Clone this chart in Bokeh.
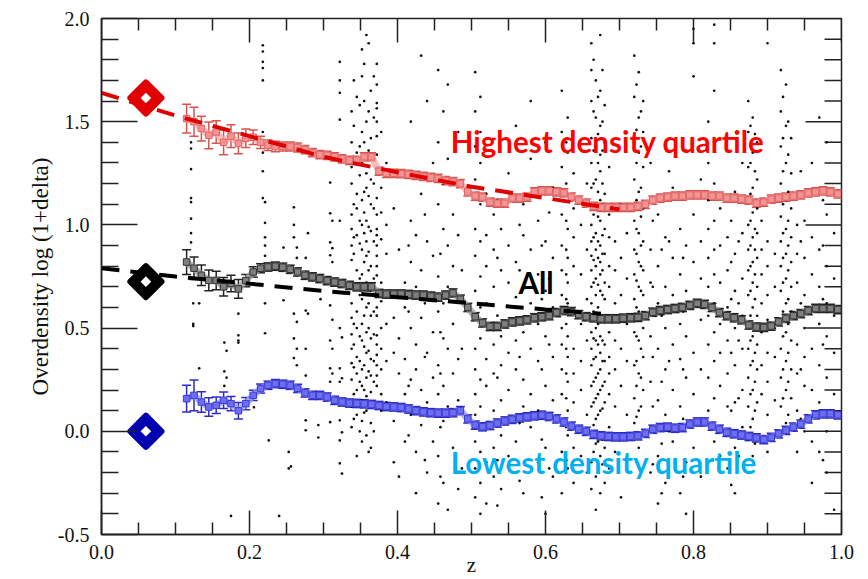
from math import pi

from bokeh.plotting import figure
from bokeh.models import (ColumnDataSource, Whisker, TeeHead, FixedTicker,
                          Range1d, Label, Title, PrintfTickFormatter)
from bokeh.embed import file_html
from bokeh.resources import INLINE

# ---------------------------------------------------------------- data
bin_z = [0.115, 0.125, 0.135, 0.145, 0.155, 0.165, 0.175, 0.185, 0.195, 0.205,
         0.215, 0.225, 0.235, 0.245, 0.255, 0.265, 0.275, 0.285, 0.295, 0.305,
         0.315, 0.325, 0.335, 0.345, 0.355, 0.365, 0.375, 0.385, 0.395, 0.405,
         0.415, 0.425, 0.435, 0.445, 0.455, 0.465, 0.475, 0.485, 0.495, 0.505,
         0.515, 0.525, 0.535, 0.545, 0.555, 0.565, 0.575, 0.585, 0.595, 0.605,
         0.615, 0.625, 0.635, 0.645, 0.655, 0.665, 0.675, 0.685, 0.695, 0.705,
         0.715, 0.725, 0.735, 0.745, 0.755, 0.765, 0.775, 0.785, 0.795, 0.805,
         0.815, 0.825, 0.835, 0.845, 0.855, 0.865, 0.875, 0.885, 0.895, 0.905,
         0.915, 0.925, 0.935, 0.945, 0.955, 0.965, 0.975, 0.985, 0.995]

high_vals = [1.515, 1.50, 1.467, 1.434, 1.45, 1.40, 1.43, 1.395, 1.42, 1.425,
             1.40, 1.386, 1.38, 1.38, 1.38, 1.375, 1.365, 1.35, 1.34, 1.337,
             1.33, 1.32, 1.313, 1.313, 1.33, 1.33, 1.26, 1.25, 1.25, 1.248,
             1.245, 1.24, 1.235, 1.23, 1.225, 1.215, 1.21, 1.20, 1.16, 1.14,
             1.135, 1.11, 1.105, 1.105, 1.13, 1.13, 1.135, 1.16, 1.165, 1.165,
             1.16, 1.155, 1.135, 1.12, 1.105, 1.09, 1.085, 1.085, 1.085, 1.085,
             1.085, 1.09, 1.10, 1.12, 1.13, 1.135, 1.14, 1.14, 1.145, 1.145,
             1.145, 1.14, 1.14, 1.13, 1.13, 1.125, 1.12, 1.105, 1.11, 1.125,
             1.13, 1.135, 1.14, 1.145, 1.155, 1.16, 1.165, 1.16, 1.15]
high_err = [0.07, 0.07, 0.06, 0.065, 0.055, 0.06, 0.055, 0.05, 0.045, 0.035,
            0.03, 0.025, 0.025, 0.022, 0.022, 0.022, 0.02, 0.02, 0.02, 0.02,
            0.02, 0.02, 0.02, 0.02, 0.02, 0.02, 0.02, 0.02, 0.02, 0.02,
            0.02, 0.02, 0.02, 0.02, 0.02, 0.02, 0.02, 0.02, 0.02, 0.02,
            0.02, 0.02, 0.02, 0.02, 0.02, 0.02, 0.02, 0.02, 0.02, 0.02,
            0.02, 0.02, 0.02, 0.02, 0.02, 0.02, 0.02, 0.02, 0.02, 0.02,
            0.02, 0.02, 0.02, 0.02, 0.02, 0.02, 0.02, 0.02, 0.02, 0.02,
            0.02, 0.02, 0.02, 0.02, 0.02, 0.02, 0.02, 0.02, 0.02, 0.02,
            0.02, 0.02, 0.02, 0.02, 0.02, 0.02, 0.02, 0.02, 0.02]

all_vals = [0.82, 0.79, 0.756, 0.731, 0.731, 0.70, 0.716, 0.69, 0.73, 0.772,
            0.79, 0.796, 0.80, 0.795, 0.785, 0.772, 0.756, 0.748, 0.74, 0.73,
            0.723, 0.716, 0.707, 0.70, 0.70, 0.70, 0.668, 0.665, 0.665, 0.665,
            0.663, 0.66, 0.66, 0.655, 0.65, 0.66, 0.67, 0.64, 0.60, 0.555,
            0.525, 0.508, 0.508, 0.52, 0.53, 0.535, 0.54, 0.55, 0.555, 0.56,
            0.575, 0.585, 0.58, 0.565, 0.555, 0.55, 0.545, 0.545, 0.545, 0.548,
            0.55, 0.552, 0.56, 0.577, 0.585, 0.59, 0.595, 0.60, 0.61, 0.62,
            0.615, 0.60, 0.575, 0.56, 0.55, 0.54, 0.515, 0.505, 0.503, 0.51,
            0.53, 0.547, 0.56, 0.57, 0.585, 0.595, 0.595, 0.595, 0.59]
all_err = [0.06, 0.055, 0.05, 0.05, 0.045, 0.045, 0.04, 0.045, 0.03, 0.025,
           0.022, 0.02, 0.02, 0.02, 0.02, 0.02, 0.02, 0.02, 0.02, 0.02,
           0.02, 0.02, 0.02, 0.02, 0.02, 0.02, 0.02, 0.02, 0.02, 0.02,
           0.02, 0.02, 0.02, 0.02, 0.02, 0.02, 0.02, 0.02, 0.02, 0.02,
           0.02, 0.02, 0.02, 0.02, 0.02, 0.02, 0.02, 0.02, 0.02, 0.02,
           0.02, 0.02, 0.02, 0.02, 0.02, 0.02, 0.02, 0.02, 0.02, 0.02,
           0.02, 0.02, 0.02, 0.02, 0.02, 0.02, 0.02, 0.02, 0.02, 0.02,
           0.02, 0.02, 0.02, 0.02, 0.02, 0.02, 0.02, 0.02, 0.02, 0.02,
           0.02, 0.02, 0.02, 0.02, 0.02, 0.02, 0.02, 0.02, 0.02]

low_vals = [0.158, 0.174, 0.142, 0.118, 0.126, 0.15, 0.134, 0.10, 0.134, 0.174,
            0.207, 0.223, 0.231, 0.228, 0.223, 0.208, 0.186, 0.174, 0.174, 0.166,
            0.15, 0.142, 0.137, 0.135, 0.133, 0.13, 0.125, 0.12, 0.118, 0.115,
            0.108, 0.10, 0.094, 0.09, 0.088, 0.088, 0.09, 0.10, 0.06, 0.03,
            0.022, 0.028, 0.04, 0.05, 0.058, 0.065, 0.07, 0.075, 0.078, 0.072,
            0.06, 0.045, 0.025, 0.01, 0.0, -0.015, -0.022, -0.025, -0.027, -0.027,
            -0.025, -0.022, -0.01, 0.01, 0.018, 0.02, 0.015, 0.018, 0.035, 0.045,
            0.045, 0.025, 0.01, -0.005, -0.012, -0.018, -0.025, -0.032, -0.04, -0.03,
            -0.012, 0.005, 0.02, 0.035, 0.06, 0.08, 0.085, 0.085, 0.08]
low_err = [0.065, 0.075, 0.05, 0.045, 0.04, 0.04, 0.035, 0.04, 0.03, 0.025,
           0.022, 0.02, 0.02, 0.02, 0.02, 0.02, 0.02, 0.02, 0.02, 0.02,
           0.02, 0.02, 0.02, 0.02, 0.02, 0.02, 0.02, 0.02, 0.02, 0.02,
           0.02, 0.02, 0.02, 0.02, 0.02, 0.02, 0.02, 0.02, 0.02, 0.02,
           0.02, 0.02, 0.02, 0.02, 0.02, 0.02, 0.02, 0.02, 0.02, 0.02,
           0.02, 0.02, 0.02, 0.02, 0.02, 0.02, 0.02, 0.02, 0.02, 0.02,
           0.02, 0.02, 0.02, 0.02, 0.02, 0.02, 0.02, 0.02, 0.02, 0.02,
           0.02, 0.02, 0.02, 0.02, 0.02, 0.02, 0.02, 0.02, 0.02, 0.02,
           0.02, 0.02, 0.02, 0.02, 0.02, 0.02, 0.02, 0.02, 0.02]

# local (z ~ 0.06) reference points: highest quartile, all, lowest quartile
local_z = [0.06, 0.06, 0.06]
local_vals = [1.615, 0.725, 0.0]

# fitted trends
fit_z = [0.0, 0.1, 0.2, 0.3, 0.4, 0.5, 0.6, 0.7]
high_fit = [1.64, 1.53, 1.43, 1.33, 1.255, 1.185, 1.13, 1.075]
all_fit_z = [0.0, 0.1, 0.2, 0.3, 0.4, 0.5, 0.6, 0.675]
all_fit = [0.79, 0.75, 0.715, 0.68, 0.65, 0.62, 0.59, 0.57]

# individual galaxies, grouped in redshift columns
column_z = [0.121, 0.124, 0.132, 0.166, 0.169, 0.175, 0.185, 0.206, 0.218, 0.221,
            0.226, 0.24, 0.246, 0.253, 0.256, 0.26, 0.264, 0.276, 0.279, 0.293,
            0.296, 0.309, 0.312, 0.322, 0.325, 0.338, 0.345, 0.352, 0.358, 0.364,
            0.372, 0.378, 0.385, 0.395, 0.402, 0.41, 0.418, 0.425, 0.432, 0.44,
            0.448, 0.455, 0.462, 0.468, 0.475, 0.482, 0.505, 0.512, 0.52, 0.53,
            0.54, 0.55, 0.56, 0.57, 0.58, 0.59, 0.60, 0.61, 0.622, 0.63,
            0.638, 0.648, 0.656, 0.662, 0.668, 0.674, 0.68, 0.686, 0.694, 0.702,
            0.71, 0.72, 0.726, 0.732, 0.742, 0.752, 0.762, 0.772, 0.782, 0.79,
            0.80, 0.81, 0.82, 0.828, 0.836, 0.846, 0.856, 0.866, 0.874, 0.88,
            0.886, 0.892, 0.90, 0.91, 0.918, 0.925, 0.932, 0.94, 0.95, 0.96,
            0.97, 0.98, 0.99,
            0.341, 0.349, 0.355, 0.361, 0.368, 0.628, 0.665, 0.671, 0.677, 0.723,
            0.729, 0.877, 0.883, 0.921, 0.928,
            0.415, 0.437, 0.458, 0.487, 0.535, 0.565, 0.595, 0.605, 0.745, 0.757,
            0.767, 0.786, 0.851, 0.861, 0.945, 0.975]
column_y = [
    [1.40, 1.37, 1.27, 1.13, 1.11, 1.03, 0.96, 0.915],
    [0.62, 0.52, 0.51],
    [0.62, 0.305],
    [0.43, 0.29, 0.22],
    [0.39, 0.26],
    [-0.41],
    [0.57, 0.465, 0.44, 0.43],
    [0.116],
    [1.87, 1.84, 1.79, 1.76, 1.70, 1.45, 1.35, 1.26, 1.13],
    [1.11, 1.01, 0.94, 0.90, 0.85, 0.79, 0.62, 0.475],
    [-0.044],
    [-0.41],
    [0.89, 0.635],
    [-0.10, -0.18],
    [-0.17],
    [1.085, 1.0, 0.94, 0.57, 0.45, 0.355],
    [0.89, 0.84, 0.53, 0.40, 0.32],
    [0.84, 0.755, 0.585, 0.40, 0.27, 0.053, 0.005],
    [0.57, 0.96],
    [0.03, -0.03],
    [0.64],
    [1.205, 1.056, 0.915, 0.853, 0.61, 0.44, 0.305, 0.24, 0.044],
    [1.02, 0.887, 0.82, 0.54, 0.40, 0.28],
    [1.79, 1.70, 1.64, 1.51, 1.02, 0.50, 0.305, 0.24, 0.053, -0.044, -0.155],
    [0.455, 0.257, -0.005, -0.205],
    [1.55, 1.40, 1.28, 1.20, 1.05, 0.98, 0.90, 0.83, 0.62, 0.55, 0.47, 0.40, 0.33, 0.25, 0.12, 0.02],
    [1.62, 1.35, 1.15, 1.08, 0.95, 0.78, 0.58, 0.50, 0.36, 0.28, 0.20, 0.08, -0.12],
    [1.85, 1.72, 1.45, 1.30, 1.12, 1.00, 0.88, 0.76, 0.64, 0.52, 0.44, 0.30, 0.22, 0.15, 0.05, -0.05],
    [1.92, 1.50, 1.25, 1.18, 1.02, 0.92, 0.85, 0.72, 0.60, 0.48, 0.38, 0.26, 0.17, 0.10, -0.02],
    [1.65, 1.42, 1.22, 1.10, 0.97, 0.80, 0.68, 0.56, 0.45, 0.35, 0.27, 0.19, 0.04, -0.08],
    [1.78, 1.68, 1.59, 1.565, 1.50, 1.43, 1.34, 1.25, 1.13, 1.05, 0.98, 0.95, 0.90, 0.85, 0.80,
     0.755, 0.60, 0.56, 0.465, 0.42, 0.37, 0.32, 0.27, 0.22],
    [1.45, 1.18, 1.06, 0.93, 0.72, 0.63, 0.50, 0.40, 0.30, 0.18, 0.10],
    [1.30, 1.00, 0.86, 0.66, 0.52, 0.34, 0.14],
    [1.08, 0.55, 0.38, 0.05, -0.15],
    [1.25, 0.88, 0.45, 0.28, 0.12, -0.22],
    [0.72, 0.60, 0.35, 0.18, -0.05],
    [1.50, 1.02, 0.82, 0.50, 0.25, 0.08],
    [0.95, 0.70, 0.42, 0.30, -0.10, -0.30],
    [1.82, 1.15, 0.78, 0.55, 0.20, 0.03],
    [1.60, 0.92, 0.65, 0.38, 0.14, -0.20],
    [1.30, 0.85, 0.48, 0.26, -0.05],
    [1.75, 1.40, 1.10, 0.75, 0.58, 0.32, 0.18, -0.12, -0.35],
    [1.55, 1.20, 0.98, 0.62, 0.45, 0.22, 0.05, -0.25],
    [1.68, 1.32, 0.90, 0.70, 0.40, 0.12, -0.38],
    [1.05, 0.80, 0.52, 0.28, -0.08],
    [1.45, 0.95, 0.66, 0.35, 0.15, -0.28],
    [1.74, 1.55, 1.38, 1.22, 0.98, 0.85, 0.68, 0.40, 0.30, 0.18, 0.08, -0.05, -0.18, -0.32],
    [1.62, 1.45, 1.30, 1.10, 0.92, 0.75, 0.60, 0.45, 0.25, 0.12, -0.10, -0.25, -0.40],
    [1.15, 0.95, 0.80, 0.62, 0.35, 0.22, 0.02, -0.15, -0.35],
    [1.35, 1.05, 0.88, 0.70, 0.42, 0.28, 0.10, -0.08, -0.22],
    [0.98, 0.78, 0.46, 0.32, 0.15, -0.02, -0.28],
    [1.25, 0.90, 0.72, 0.38, 0.20, 0.06, -0.12],
    [1.48, 0.82, 0.65, 0.44, 0.30, -0.05, -0.20],
    [1.10, 0.95, 0.70, 0.48, 0.25, 0.12, -0.30],
    [1.60, 1.32, 0.88, 0.62, 0.40, 0.18, 0.02],
    [1.02, 0.76, 0.52, 0.34, 0.10, -0.15],
    [1.40, 0.92, 0.68, 0.46, 0.22, -0.08, -0.40],
    [1.18, 0.84, 0.60, 0.36, 0.15, -0.22],
    [1.65, 1.45, 1.28, 1.05, 0.90, 0.78, 0.66, 0.50, 0.42, 0.30, 0.18, 0.05, -0.10, -0.30],
    [1.52, 1.35, 1.15, 0.98, 0.84, 0.72, 0.62, 0.46, 0.36, 0.24, 0.10, -0.02, -0.18],
    [1.25, 1.08, 0.94, 0.80, 0.58, 0.40, 0.28, 0.14, -0.08, -0.25],
    [1.00, 0.76, 0.52, 0.34, 0.20, -0.12],
    [1.20, 0.88, 0.64, 0.44, 0.08, -0.20],
    [1.88, 1.75, 1.60, 1.42, 1.30, 1.18, 1.00, 0.92, 0.85, 0.78, 0.70, 0.62, 0.48, 0.40, 0.32,
     0.22, 0.12, 0.0, -0.15, -0.28],
    [1.70, 1.52, 1.38, 1.22, 1.08, 0.96, 0.88, 0.80, 0.74, 0.66, 0.50, 0.44, 0.36, 0.26, 0.16,
     0.06, -0.06, -0.22, -0.38],
    [1.92, 1.65, 1.48, 1.34, 1.26, 1.12, 1.02, 0.90, 0.82, 0.76, 0.68, 0.46, 0.38, 0.30, 0.20,
     0.10, -0.02, -0.12, -0.30],
    [1.58, 1.40, 1.15, 0.98, 0.86, 0.72, 0.64, 0.42, 0.34, 0.24, 0.14, -0.08, -0.25],
    [1.28, 1.05, 0.94, 0.80, 0.70, 0.48, 0.36, 0.28, 0.18, 0.02, -0.18],
    [0.92, 0.78, 0.62, 0.44, 0.30, 0.12, -0.10],
    [1.10, 0.84, 0.66, 0.40, 0.22, -0.02, -0.32],
    [0.96, 0.74, 0.52, 0.34, 0.08, -0.14],
    [1.82, 1.62, 1.40, 1.22, 1.02, 0.88, 0.76, 0.64, 0.48, 0.32, 0.16, 0.04],
    [1.74, 1.52, 1.35, 1.16, 0.96, 0.82, 0.70, 0.58, 0.44, 0.28, 0.10, -0.08],
    [1.60, 1.45, 1.28, 1.08, 0.92, 0.78, 0.66, 0.50, 0.36, 0.20, -0.02],
    [1.30, 0.88, 0.72, 0.46, 0.24, 0.02, -0.20],
    [1.05, 0.80, 0.62, 0.40, 0.15, -0.12, -0.35],
    [0.94, 0.70, 0.50, 0.30, 0.08, -0.25],
    [1.18, 0.84, 0.66, 0.42, 0.20, -0.05],
    [0.98, 0.76, 0.52, 0.35, 0.12, -0.30],
    [1.36, 0.90, 0.68, 0.46, 0.26, -0.15, -0.40],
    [1.95, 1.88, 1.72, 1.05, 0.82, 0.60, 0.38, 0.18, -0.08],
    [1.22, 0.92, 0.74, 0.54, 0.30, 0.05, -0.22],
    [1.50, 1.30, 1.12, 0.98, 0.84, 0.70, 0.56, 0.42, 0.26, 0.10],
    [1.97, 1.88, 1.65, 1.40, 1.20, 1.02, 0.88, 0.76, 0.62, 0.48, 0.34, 0.16, -0.05],
    [1.08, 0.90, 0.72, 0.52, 0.38, 0.22, -0.12],
    [0.94, 0.78, 0.60, 0.44, 0.28, 0.12, -0.18],
    [1.16, 0.86, 0.68, 0.50, 0.32, 0.14, -0.08, -0.30],
    [1.30, 0.96, 0.74, 0.56, 0.40, 0.20, 0.02],
    [1.60, 1.45, 1.28, 1.12, 1.00, 0.88, 0.78, 0.66, 0.52, 0.40, 0.26, 0.12, -0.04],
    [1.52, 1.35, 1.18, 1.06, 0.94, 0.82, 0.72, 0.60, 0.46, 0.34, 0.20, 0.06, -0.12],
    [1.40, 1.22, 1.08, 0.96, 0.84, 0.70, 0.56, 0.42, 0.30, 0.14],
    [1.02, 0.88, 0.76, 0.62, 0.48, 0.32, 0.18],
    [1.88, 0.92, 0.80, 0.66, 0.54, 0.38, 0.24, 0.08, -0.10],
    [0.86, 0.70, 0.50, 0.36, 0.15],
    [1.75, 1.55, 1.38, 1.20, 1.04, 0.92, 0.80, 0.68, 0.54, 0.40, 0.26, 0.12, -0.02],
    [1.68, 1.48, 1.30, 1.12, 0.98, 0.86, 0.74, 0.62, 0.48, 0.34, 0.20, 0.04],
    [1.42, 1.25, 1.08, 0.94, 0.82, 0.70, 0.58, 0.44, 0.30, 0.16],
    [1.15, 1.00, 0.86, 0.72, 0.56, 0.42, 0.28, 0.10, -0.10],
    [1.02, 0.84, 0.66, 0.50, 0.36, 0.22, 0.0],
    [1.30, 0.94, 0.76, 0.58, 0.40, 0.20, -0.05, -0.25],
    [1.52, 0.88, 0.70, 0.52, 0.32, 0.14, -0.10],
    [1.40, 1.05, 0.80, 0.62, 0.46, 0.26, 0.0, -0.20],
    [0.96, 0.74, 0.56, 0.38, 0.18, -0.38],
    [1.70, 1.48, 1.32, 1.10, 0.94, 0.86, 0.70, 0.52, 0.42, 0.31, 0.18, 0.06],
    [1.58, 1.38, 1.24, 1.02, 0.91, 0.74, 0.66, 0.46, 0.34, 0.24, 0.13, 0.0],
    [1.78, 1.60, 1.40, 1.16, 1.06, 0.96, 0.82, 0.70, 0.56, 0.41, 0.32, 0.20, 0.09],
    [1.88, 1.55, 1.36, 1.14, 0.99, 0.87, 0.78, 0.62, 0.50, 0.39, 0.29, 0.14, -0.10],
    [1.72, 1.52, 1.32, 1.20, 1.08, 0.92, 0.74, 0.58, 0.47, 0.34, 0.24, 0.12, 0.00],
    [1.40, 1.20, 1.02, 0.88, 0.76, 0.64, 0.52, 0.40, 0.28, 0.16, 0.02, -0.14],
    [1.80, 1.55, 1.36, 1.20, 1.05, 0.94, 0.83, 0.72, 0.58, 0.45, 0.35, 0.24, 0.14, 0.03, -0.10],
    [1.62, 1.44, 1.30, 1.16, 1.04, 0.92, 0.84, 0.71, 0.60, 0.52, 0.42, 0.28, 0.18, 0.08, -0.05, -0.20],
    [1.75, 1.50, 1.36, 1.20, 1.10, 0.95, 0.86, 0.78, 0.66, 0.55, 0.44, 0.34, 0.22, 0.11, -0.04, -0.16],
    [1.68, 1.46, 1.30, 1.12, 0.98, 0.86, 0.73, 0.60, 0.46, 0.34, 0.22, 0.07],
    [1.55, 1.38, 1.18, 1.04, 0.90, 0.80, 0.68, 0.54, 0.40, 0.26, 0.12],
    [1.48, 1.30, 1.15, 1.02, 0.90, 0.80, 0.68, 0.56, 0.44, 0.32, 0.18, 0.02],
    [1.44, 1.26, 1.12, 0.98, 0.88, 0.76, 0.64, 0.50, 0.38, 0.24, 0.10, -0.06],
    [1.62, 1.42, 1.26, 1.10, 0.96, 0.84, 0.72, 0.58, 0.46, 0.30, 0.16, 0.00],
    [1.50, 1.34, 1.16, 1.02, 0.90, 0.78, 0.64, 0.52, 0.38, 0.24, 0.08],
    [0.90, 0.58, 0.22, -0.02],
    [1.05, 0.62, 0.36, -0.14],
    [0.86, 0.48, 0.28, 0.02, -0.22],
    [1.20, 0.78, 0.40, 0.10, -0.18],
    [1.12, 0.84, 0.56, 0.26, -0.14, -0.36],
    [1.00, 0.78, 0.36, 0.04, -0.24],
    [0.90, 0.64, 0.30, -0.04, -0.32],
    [1.06, 0.74, 0.42, 0.08, -0.18],
    [1.02, 0.70, 0.36, 0.12, -0.16],
    [0.88, 0.56, 0.24, -0.06, -0.30],
    [1.26, 0.92, 0.60, 0.34, 0.00],
    [0.84, 0.58, 0.30, 0.06, -0.22],
    [1.02, 0.82, 0.64, 0.38, 0.10, -0.26],
    [0.92, 0.62, 0.44, 0.16, -0.12],
    [1.26, 0.92, 0.62, 0.30, 0.06],
    [1.12, 0.90, 0.64, 0.42, 0.08, -0.14],
]

x_major = [0.0, 0.2, 0.4, 0.6, 0.8, 1.0]
x_minor = [0.05, 0.1, 0.15, 0.25, 0.3, 0.35, 0.45, 0.5, 0.55, 0.65, 0.7, 0.75, 0.85, 0.9, 0.95]
y_major = [-0.5, 0.0, 0.5, 1.0, 1.5, 2.0]
y_minor = [-0.4, -0.3, -0.2, -0.1, 0.1, 0.2, 0.3, 0.4, 0.6, 0.7, 0.8, 0.9,
           1.1, 1.2, 1.3, 1.4, 1.6, 1.7, 1.8, 1.9]

# ---------------------------------------------------------------- figure
X0, X1, Y0, Y1 = 0.0, 1.0, -0.5, 2.0
p = figure(width=868, height=579, x_range=Range1d(X0, X1), y_range=Range1d(Y0, Y1),
           output_backend="svg", toolbar_location=None,
           min_border_left=101, min_border_right=27, min_border_top=18, min_border_bottom=45)
p.grid.visible = False
p.outline_line_color = "#222222"
p.outline_line_width = 1.5
p.background_fill_color = "white"
p.border_fill_color = "white"

SERIF = "Liberation Serif"
INK = "#222222"


def style_axis(ax, ticks, minor, major_in, minor_in, standoff):
    ax.ticker = FixedTicker(ticks=ticks, minor_ticks=minor)
    ax.formatter = PrintfTickFormatter(format="%.1f")
    ax.axis_line_color = INK
    ax.axis_line_width = 1.5
    ax.major_tick_line_color = INK
    ax.minor_tick_line_color = INK
    ax.major_tick_line_width = 1.5
    ax.minor_tick_line_width = 1.5
    ax.major_tick_in = major_in
    ax.major_tick_out = 0
    ax.minor_tick_in = minor_in
    ax.minor_tick_out = 0
    ax.major_label_text_font = SERIF
    ax.major_label_text_color = "#111111"
    ax.major_label_text_font_size = "20px"
    ax.major_label_standoff = standoff


xax = p.xaxis[0]
style_axis(xax, x_major, x_minor, 24, 12, 10)
xax.axis_label = "z"
xax.axis_label_text_font = SERIF
xax.axis_label_text_font_size = "21px"
xax.axis_label_text_font_style = "normal"
xax.axis_label_text_color = "#111111"
xax.axis_label_standoff = -9
style_axis(p.yaxis[0], y_major, y_minor, 36, 17, 12)

# mirrored inward ticks on the top and right frame edges (lengths in data units)
x_tick_major, x_tick_minor = 24 / 206.4, 12 / 206.4
y_tick_major, y_tick_minor = 36 / 740.0, 17 / 740.0
tick_style = dict(line_color=INK, line_width=1.5)
p.segment(x0=x_major, y0=[Y1] * len(x_major), x1=x_major,
          y1=[Y1 - x_tick_major] * len(x_major), **tick_style)
p.segment(x0=x_minor, y0=[Y1] * len(x_minor), x1=x_minor,
          y1=[Y1 - x_tick_minor] * len(x_minor), **tick_style)
p.segment(x0=[X1] * len(y_major), y0=y_major, x1=[X1 - y_tick_major] * len(y_major),
          y1=y_major, **tick_style)
p.segment(x0=[X1] * len(y_minor), y0=y_minor, x1=[X1 - y_tick_minor] * len(y_minor),
          y1=y_minor, **tick_style)

# galaxies
dot_z = [z for z, ys in zip(column_z, column_y) for _ in ys]
dot_y = [y for ys in column_y for y in ys]
p.scatter(dot_z, dot_y, marker="circle", size=2.7, fill_color="#111111", line_color=None)


def binned(vals, errs, band, face, edge, bar):
    src = ColumnDataSource(dict(z=bin_z, v=vals,
                                up=[v + e for v, e in zip(vals, errs)],
                                lo=[v - e for v, e in zip(vals, errs)]))
    p.line("z", "v", source=src, line_color=band, line_width=7, line_alpha=0.75)
    p.add_layout(Whisker(source=src, base="z", upper="up", lower="lo",
                         line_color=bar, line_width=1.5,
                         upper_head=TeeHead(size=9, line_color=bar, line_width=1.5),
                         lower_head=TeeHead(size=9, line_color=bar, line_width=1.5)))
    p.scatter("z", "v", source=src, marker="square", size=6.5,
              fill_color=face, line_color=edge, line_width=1)


binned(high_vals, high_err, "#f6a8a8", "#f39393", "#e06666", "#d9534f")
binned(all_vals, all_err, "#9a9a9a", "#7f7f7f", "#333333", "#222222")
binned(low_vals, low_err, "#9a9af2", "#6e6ef0", "#3b3bd6", "#2b2bc4")

# fitted trends, drawn over the binned curves
p.line(fit_z, high_fit, line_color="#e00000", line_width=4, line_dash="18 11")
p.line(all_fit_z, all_fit, line_color="#000000", line_width=4, line_dash="18 11")

# local reference points: a solid rounded diamond with a small white diamond hole
local_colors = ["#e00000", "#000000", "#0000b0"]
p.scatter(local_z, local_vals, marker="square", angle=pi / 4, size=22, fill_color=local_colors,
          line_color=local_colors, line_width=6, line_join="round")
p.scatter(local_z, local_vals, marker="square", angle=pi / 4, size=7.5, fill_color="white",
          line_color=None)

# annotations
LABEL_FONT = "Lato"
label_style = dict(text_font=LABEL_FONT, text_font_style="bold", text_font_size="29.5px",
                   text_baseline="alphabetic")
p.add_layout(Label(x=0.472, y=1.405, text="Highest density quartile",
                   text_color="#ff0000", **label_style))
p.add_layout(Label(x=0.5635, y=0.722, text="All", text_color="#000000", **label_style))
p.add_layout(Label(x=0.472, y=-0.150, text="Lowest density quartile",
                   text_color="#00b0f0", **label_style))

# vertical axis title
p.add_layout(Title(text="Overdensity log (1+delta)", align="center", offset=42,
                   text_font=SERIF, text_font_size="23px", text_font_style="normal",
                   text_color="#111111", standoff=4), "left")

open("out.html", "w").write(file_html(p, INLINE))
